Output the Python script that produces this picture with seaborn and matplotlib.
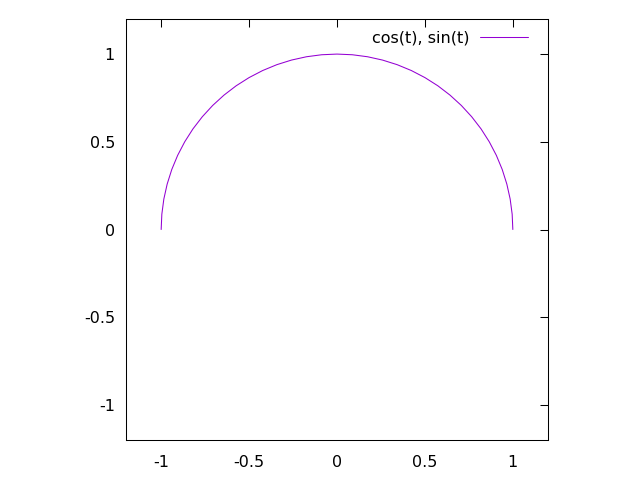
import matplotlib
matplotlib.use("Agg")
import matplotlib.pyplot as plt
import seaborn as sns

# points on the curve (every 5 degrees)
x_vals = [1.0, 0.9962, 0.9848, 0.9659, 0.9397, 0.9063, 0.8660, 0.8192, 0.7660, 0.7071,
          0.6428, 0.5736, 0.5, 0.4226, 0.3420, 0.2588, 0.1736, 0.0872, 0.0,
          -0.0872, -0.1736, -0.2588, -0.3420, -0.4226, -0.5, -0.5736, -0.6428,
          -0.7071, -0.7660, -0.8192, -0.8660, -0.9063, -0.9397, -0.9659, -0.9848,
          -0.9962, -1.0]
y_vals = [0.0, 0.0872, 0.1736, 0.2588, 0.3420, 0.4226, 0.5, 0.5736, 0.6428, 0.7071,
          0.7660, 0.8192, 0.8660, 0.9063, 0.9397, 0.9659, 0.9848, 0.9962, 1.0,
          0.9962, 0.9848, 0.9659, 0.9397, 0.9063, 0.8660, 0.8192, 0.7660,
          0.7071, 0.6428, 0.5736, 0.5, 0.4226, 0.3420, 0.2588, 0.1736,
          0.0872, 0.0]
series_label = "cos(t), sin(t)"
tick_vals = [-1, -0.5, 0, 0.5, 1]
tick_labels = ["-1", "-0.5", "0", "0.5", "1"]

sns.set_theme(style="white")
plt.rcParams['font.family'] = ['DejaVu Sans']
plt.rcParams['text.color'] = 'black'

fig = plt.figure(figsize=(6.4, 4.8), dpi=100)
ax = fig.add_axes([126 / 640, 1 - 440 / 480, (548 - 126) / 640, (440 - 19) / 480])

sns.lineplot(x=x_vals, y=y_vals, sort=False, estimator=None, ax=ax,
             color='#9400d3', linewidth=0.75, label=series_label)

ax.set_xlim(-1.2, 1.2)
ax.set_ylim(-1.2, 1.2)
ax.set_xticks(tick_vals, tick_labels)
ax.set_yticks(tick_vals, tick_labels)
ax.tick_params(direction='in', length=6, width=0.75, top=True, right=True,
               labelsize=11.5, colors='black')
ax.tick_params(axis='x', pad=11)
ax.tick_params(axis='y', pad=8)
for spine in ax.spines.values():
    spine.set_color('black')
    spine.set_linewidth(0.75)

ax.legend(loc='upper right', bbox_to_anchor=(0.968, 0.988), borderaxespad=0,
          frameon=False, markerfirst=False, fontsize=11.5,
          handlelength=3.0, handletextpad=0.7, labelcolor='black')

fig.savefig('out.png', dpi=100)
